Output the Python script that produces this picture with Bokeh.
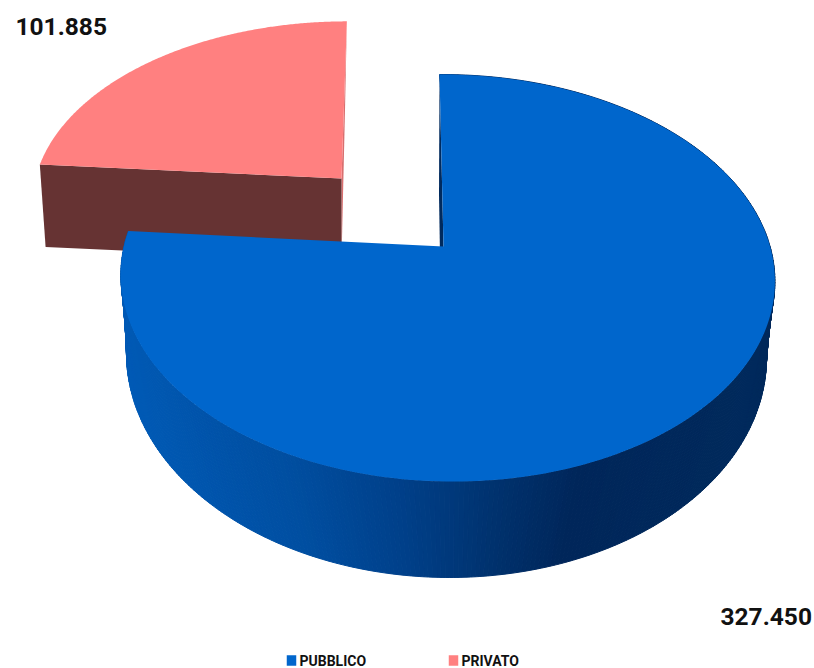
import numpy as np
from bokeh.core.properties import value
from bokeh.embed import file_html
from bokeh.models import Range1d
from bokeh.plotting import figure
from bokeh.resources import INLINE

# Slices and their printed totals
categories = ["PUBBLICO", "PRIVATO"]
amounts = [327450, 101885]
amount_labels = ["327.450", "101.885"]

FONT = value("Roboto")
TOP_COLORS = ["#0066CC", "#FF8080"]
SHADOW_COLORS = ["#002A5E", "#663333"]
EDGE_PINK = "#D96F6F"

# Perspective model of each disc: centre, half axes, skew, foreshortening, sideways tilt
BLUE_TOP = dict(cx=443, cy=246, ax=323, ay=198.6, skew=4.6, k=0.155, m=0.011)
BLUE_BOT = dict(cx=446, cy=355, ax=320, ay=222.0, skew=3.0, k=0.0, m=0.0)
BLUE_NOTCH = dict(cx=441, cy=347, ax=313.5, ay=184.0, skew=3.0, k=0.20, m=0.0175)
RED_TOP = dict(cx=341, cy=178, ax=306, ay=176.0, skew=-6, k=0.12, m=0.0)
RED_BOT = dict(cx=341, cy=260, ax=300, ay=172.0, skew=-4, k=0.12, m=0.0)

# Shading of the round outer wall, left to right
WALL_STOPS_X = [120, 300, 400, 500, 570, 780]
WALL_STOPS_RGB = [(0, 90, 182), (0, 78, 160), (0, 64, 138), (0, 49, 108), (0, 38, 90), (0, 42, 92)]


def project(theta, disc):
    """Screen position of a pie angle (clockwise from twelve o'clock)."""
    u = np.sin(theta)
    v = -np.cos(theta)
    w = 1 - disc["k"] * v - disc["m"] * u
    x = disc["cx"] + (disc["ax"] * u + disc["skew"] * v) / w
    y = disc["cy"] + disc["ay"] * v / w
    return x, y


def wall_color(x):
    parts = [np.interp(x, WALL_STOPS_X, [c[i] for c in WALL_STOPS_RGB]) for i in range(3)]
    return "#%02x%02x%02x" % tuple(int(round(c)) for c in parts)


def wedge(theta0, theta1, disc):
    t = np.linspace(theta0, theta1, 240)
    x, y = project(t, disc)
    return [disc["cx"], *x], [disc["cy"], *y]


total = sum(amounts)
split = 2 * np.pi * amounts[0] / total

p = figure(
    width=814, height=668,
    x_range=Range1d(0, 814), y_range=Range1d(668, 0),
    output_backend="svg", toolbar_location=None,
    min_border=0, outline_line_color=None,
    background_fill_color="white", border_fill_color="white",
)
p.axis.visible = False
p.grid.visible = False

# Private slice: thin right wall, front wall, then top face
rx0, ry0 = project(0.0, RED_TOP)
rx1, ry1 = project(0.0, RED_BOT)
p.patch([rx0, RED_TOP["cx"], RED_BOT["cx"], rx1], [ry0, RED_TOP["cy"], RED_BOT["cy"], ry1],
        fill_color=EDGE_PINK, line_color=None)

lx0, ly0 = project(split, RED_TOP)
lx1, ly1 = project(split, RED_BOT)
p.patch([lx0, RED_TOP["cx"], RED_BOT["cx"], lx1], [ly0, RED_TOP["cy"], RED_BOT["cy"], ly1],
        fill_color=SHADOW_COLORS[1], line_color=None)

xs, ys = wedge(split, 2 * np.pi, RED_TOP)
p.patch(xs, ys, fill_color=TOP_COLORS[1], line_color=None)

# Public slice: notch wall, shaded outer wall, then top face
bx0, by0 = project(0.0, BLUE_TOP)
bx1, by1 = project(0.0, BLUE_NOTCH)
p.patch([bx0, BLUE_TOP["cx"], BLUE_NOTCH["cx"], bx1], [by0, BLUE_TOP["cy"], BLUE_NOTCH["cy"], by1],
        fill_color=SHADOW_COLORS[0], line_color=None)

edges = np.linspace(0, split, 361)
strip_xs, strip_ys, strip_colors = [], [], []
for a, b in zip(edges[:-1], edges[1:]):
    ax0, ay0 = project(a, BLUE_TOP)
    ax1, ay1 = project(b, BLUE_TOP)
    cx0, cy0 = project(a, BLUE_BOT)
    cx1, cy1 = project(b, BLUE_BOT)
    strip_xs.append([ax0, ax1, cx1, cx0])
    strip_ys.append([ay0, ay1, cy1, cy0])
    strip_colors.append(wall_color((ax0 + ax1 + cx0 + cx1) / 4))
p.patches(strip_xs, strip_ys, fill_color=strip_colors, line_color=strip_colors, line_width=1)

xs, ys = wedge(0.0, split, BLUE_TOP)
p.patch(xs, ys, fill_color=TOP_COLORS[0], line_color=None)

# Value labels
p.text([720], [616], text=[amount_labels[0]], text_font=FONT, text_font_style="bold",
       text_font_size="24.5px", text_color="#111111", text_align="left", text_baseline="middle")
p.text([15], [26], text=[amount_labels[1]], text_font=FONT, text_font_style="bold",
       text_font_size="24.5px", text_color="#111111", text_align="left", text_baseline="middle")

# Legend row
p.rect([291, 453], [660, 660], width=9.5, height=10.5, fill_color=TOP_COLORS, line_color=None)
p.text([299, 461], [660, 660], text=categories, text_font=FONT, text_font_style="bold",
       text_font_size="14px", text_color="#111111", text_align="left", text_baseline="middle")

open("out.html", "w").write(file_html(p, INLINE))
